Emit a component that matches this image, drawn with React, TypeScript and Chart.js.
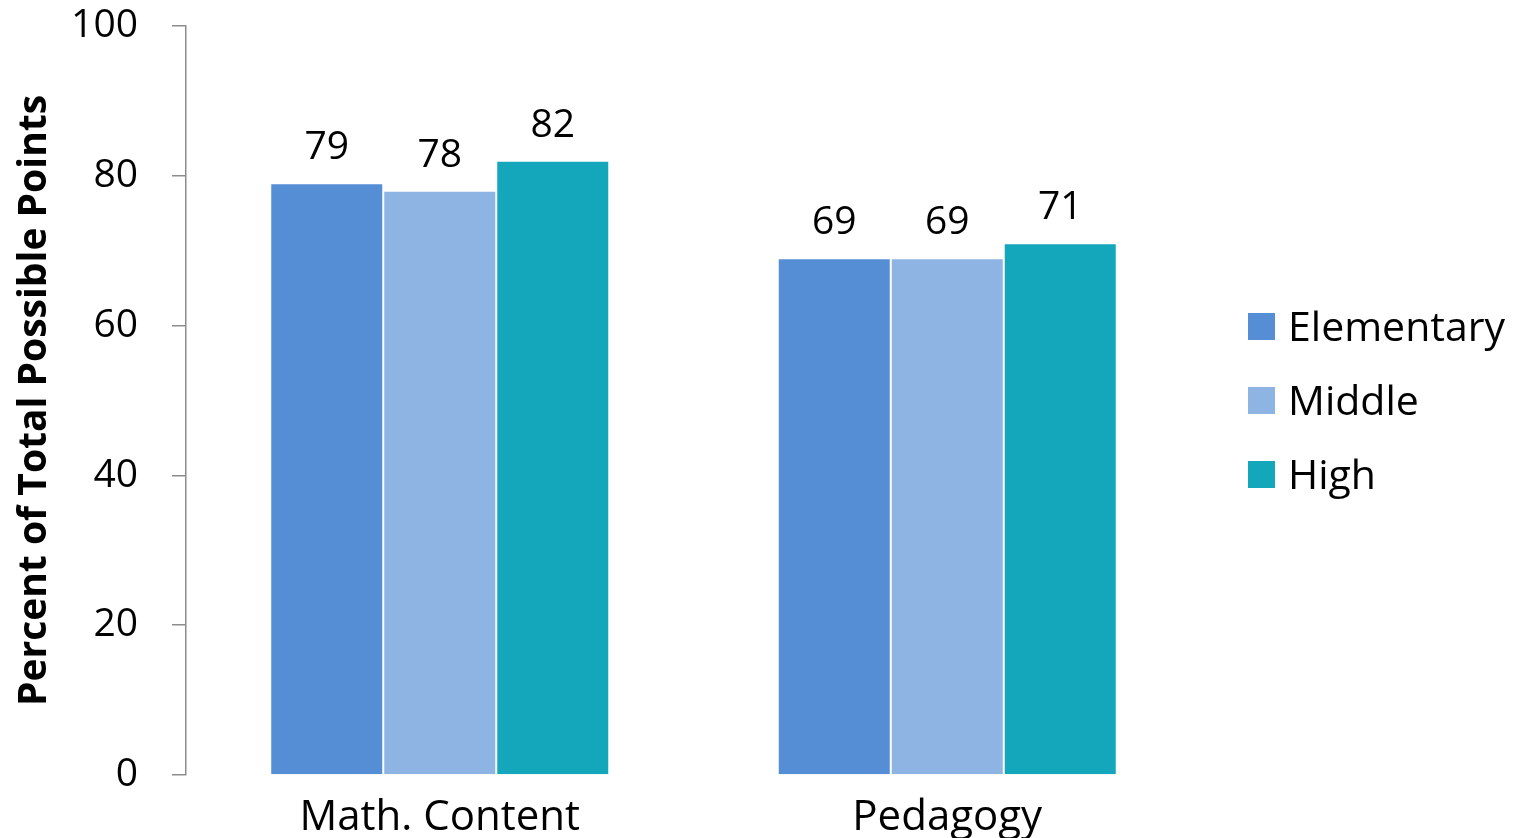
import React, { useEffect, useRef } from "react";
import { Chart, registerables } from "chart.js";

Chart.register(...registerables);

const categories = ["Math. Content", "Pedagogy"];
const seriesNames = ["Elementary", "Middle", "High"];
const elementaryValues = [79, 69];
const middleValues = [78, 69];
const highValues = [82, 71];
const seriesColors = ["#558ED5", "#8EB4E3", "#14A7BC"];
const yTicks = [0, 20, 40, 60, 80, 100];
const yTitle = "Percent of Total Possible Points";

const FONT = "'Open Sans', sans-serif";

const valueLabels = {
  id: "valueLabels",
  afterDatasetsDraw(chart: any) {
    const ctx = chart.ctx;
    ctx.save();
    ctx.font = `39px ${FONT}`;
    ctx.fillStyle = "#000";
    ctx.textAlign = "center";
    ctx.textBaseline = "alphabetic";
    chart.data.datasets.forEach((ds: any, i: number) => {
      const meta = chart.getDatasetMeta(i);
      meta.data.forEach((el: any, j: number) => {
        ctx.fillText(String(ds.data[j]), el.x, el.y - 24);
      });
    });
    ctx.restore();
  },
};

const sideLegend = {
  id: "sideLegend",
  afterDraw(chart: any) {
    const ctx = chart.ctx;
    const area = chart.chartArea;
    const cy = (area.top + area.bottom) / 2;
    const n = chart.data.datasets.length;
    ctx.save();
    ctx.font = `41px ${FONT}`;
    ctx.textAlign = "left";
    ctx.textBaseline = "alphabetic";
    chart.data.datasets.forEach((ds: any, i: number) => {
      const c = cy + (i - (n - 1) / 2) * 74;
      const bx = 1248;
      ctx.fillStyle = ds.backgroundColor;
      ctx.fillRect(bx, c - 13.5, 27, 27);
      ctx.fillStyle = "#000";
      ctx.fillText(ds.label, bx + 40, c + 14);
    });
    ctx.restore();
  },
};

export default function App() {
  const ref = useRef<HTMLCanvasElement>(null);
  useEffect(() => {
    if (!ref.current) return;
    const allValues = [elementaryValues, middleValues, highValues];
    const chart = new Chart(ref.current, {
      type: "bar",
      data: {
        labels: categories,
        datasets: seriesNames.map((name, i) => ({
          label: name,
          data: allValues[i],
          backgroundColor: seriesColors[i],
          borderColor: "rgba(255,255,255,0.12)",
          borderWidth: 1,
          categoryPercentage: 0.668,
          barPercentage: 1,
        })),
      },
      options: {
        animation: false,
        responsive: false,
        devicePixelRatio: 1,
        layout: { padding: { top: 26, right: 328, left: 0, bottom: 0 } },
        plugins: {
          legend: { display: false },
          tooltip: { enabled: false },
        },
        scales: {
          x: {
            grid: { display: false },
            border: { display: false },
            ticks: {
              color: "#000",
              font: { family: FONT, size: 42 },
              padding: 10,
              maxRotation: 0,
            },
            afterFit: (s: any) => {
              s.height = 63;
            },
          },
          y: {
            min: 0,
            max: 100,
            afterBuildTicks: (s: any) => {
              s.ticks = yTicks.map((v) => ({ value: v }));
            },
            grid: {
              drawOnChartArea: false,
              drawTicks: true,
              tickLength: 14,
              color: "#8c8c8c",
              lineWidth: 1.5,
            },
            border: { display: true, color: "#8c8c8c", width: 1.5 },
            ticks: {
              color: "#000",
              font: { family: FONT, size: 39 },
              padding: 34,
            },
            title: {
              display: true,
              text: yTitle,
              color: "#000",
              font: { family: FONT, size: 39, weight: "bold" },
              padding: { top: 11, bottom: 0 },
            },
            afterFit: (s: any) => {
              s.width = 186;
              s.paddingTop = 0;
              s.paddingBottom = 0;
            },
          },
        },
      },
      plugins: [valueLabels, sideLegend],
    });
    return () => chart.destroy();
  }, []);
  return (
    <div style={{ position: "fixed", left: 0, top: 0, width: 1529, height: 838, background: "#fff" }}>
      <canvas ref={ref} width={1529} height={838} />
    </div>
  );
}
